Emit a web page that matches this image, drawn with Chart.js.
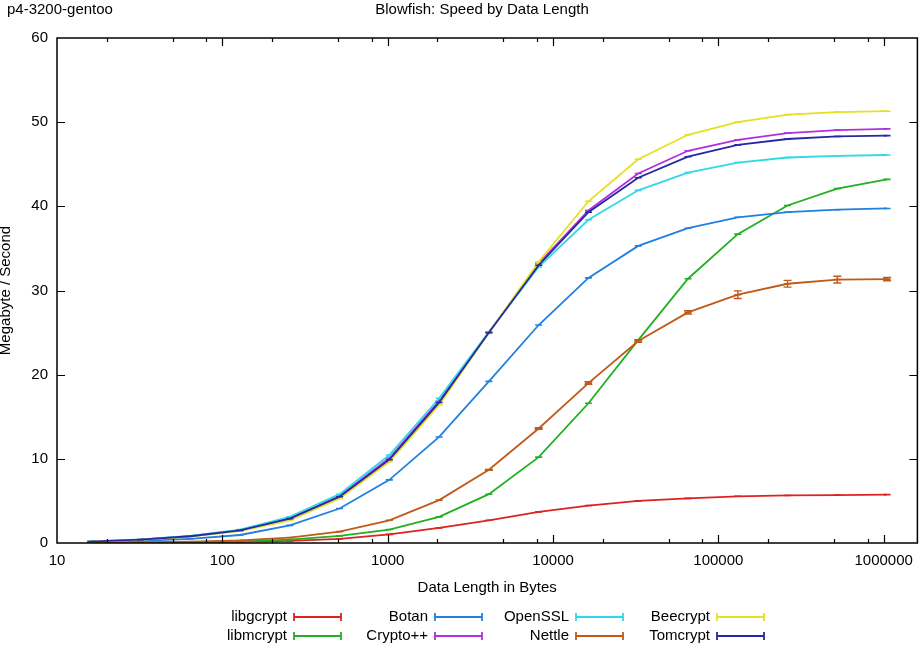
<!DOCTYPE html>
<html>
<head>
<meta charset="utf-8">
<script src="https://cdn.jsdelivr.net/npm/chart.js@4/dist/chart.umd.min.js"></script>
<style>
  html, body { margin: 0; padding: 0; background: #fff; }
  #wrap { width: 923px; height: 649px; }
</style>
</head>
<body>
<div id="wrap"><canvas id="chart" width="923" height="649"></canvas></div>
<script>
const hostLabel = 'p4-3200-gentoo';
const chartTitle = 'Blowfish: Speed by Data Length';
const xTitle = 'Data Length in Bytes';
const yTitle = 'Megabyte / Second';

// data lengths in bytes (x values)
const sizes = [16, 32, 64, 128, 256, 512, 1024, 2048, 4096, 8192, 16384, 32768, 65536, 131072, 262144, 524288, 1048576];

// MB/s per library
const libgcrypt = [0.02, 0.04, 0.07, 0.13, 0.25, 0.48, 1.02, 1.8, 2.7, 3.7, 4.45, 5.0, 5.3, 5.55, 5.65, 5.7, 5.75];
const libmcrypt = [0.03, 0.05, 0.1, 0.2, 0.4, 0.85, 1.6, 3.1, 5.8, 10.2, 16.6, 24.1, 31.4, 36.7, 40.1, 42.1, 43.2];
const botan     = [0.12, 0.25, 0.5, 0.95, 2.1, 4.1, 7.5, 12.6, 19.2, 25.9, 31.5, 35.3, 37.4, 38.7, 39.3, 39.6, 39.75];
const cryptopp  = [0.17, 0.4, 0.8, 1.5, 3.0, 5.6, 10.1, 16.9, 25.0, 33.2, 39.5, 43.9, 46.6, 47.9, 48.7, 49.05, 49.2];
const openssl   = [0.2, 0.42, 0.85, 1.6, 3.1, 5.8, 10.45, 17.2, 25.1, 32.8, 38.4, 41.9, 44.0, 45.2, 45.8, 46.0, 46.1];
const nettle    = [0.04, 0.08, 0.15, 0.3, 0.65, 1.35, 2.7, 5.1, 8.7, 13.6, 19.0, 24.0, 27.4, 29.5, 30.8, 31.3, 31.35];
const beecrypt  = [0.15, 0.37, 0.75, 1.4, 2.7, 5.3, 9.65, 16.4, 25.0, 33.4, 40.6, 45.6, 48.5, 50.0, 50.9, 51.2, 51.3];
const tomcrypt  = [0.17, 0.4, 0.8, 1.5, 2.9, 5.5, 9.9, 16.7, 25.0, 33.0, 39.3, 43.4, 45.9, 47.3, 48.0, 48.3, 48.4];

// +/- error (only Nettle has visible spread)
const nettleErr = [0, 0, 0, 0, 0, 0, 0, 0, 0.05, 0.1, 0.15, 0.15, 0.2, 0.45, 0.4, 0.4, 0.2];

const seriesNames = ['libgcrypt', 'libmcrypt', 'Botan', 'Crypto++', 'OpenSSL', 'Nettle', 'Beecrypt', 'Tomcrypt'];
const seriesValues = [libgcrypt, libmcrypt, botan, cryptopp, openssl, nettle, beecrypt, tomcrypt];
const seriesErrors = [null, null, null, null, null, nettleErr, null, null];
const seriesColors = ['#dd2222', '#22b022', '#2080e0', '#b030e0', '#30d8e8', '#c05a1a', '#e6e020', '#2828a0'];

const xMajorTicks = [10, 100, 1000, 10000, 100000, 1000000];
const xMinorMult = [2, 5, 8];
const yTicks = [0, 10, 20, 30, 40, 50, 60];

const FONT = '15px "Liberation Sans", Arial, sans-serif';

const datasets = seriesNames.map((name, i) => ({
  label: name,
  data: sizes.map((s, j) => ({ x: s, y: seriesValues[i][j] })),
  errors: seriesErrors[i],
  borderColor: seriesColors[i],
  backgroundColor: seriesColors[i],
  borderWidth: 1.8,
  pointStyle: 'line',
  pointRadius: 3.5,
  pointBorderWidth: 1.6,
  pointBorderColor: seriesColors[i],
  tension: 0,
  order: seriesNames.length - 1 - i
}));

// error bars
const errorBars = {
  id: 'errorBars',
  afterDatasetsDraw(chart){
    const ctx = chart.ctx, ys = chart.scales.y, xs = chart.scales.x;
    chart.data.datasets.forEach(ds => {
      if (!ds.errors) return;
      ctx.save();
      ctx.strokeStyle = ds.borderColor; ctx.lineWidth = 1.4;
      ds.data.forEach((p, j) => {
        const e = ds.errors[j];
        if (!e) return;
        const x = xs.getPixelForValue(p.x);
        const y1 = ys.getPixelForValue(p.y - e), y2 = ys.getPixelForValue(p.y + e);
        ctx.beginPath();
        ctx.moveTo(x, y1); ctx.lineTo(x, y2);
        ctx.moveTo(x - 4, y1); ctx.lineTo(x + 4, y1);
        ctx.moveTo(x - 4, y2); ctx.lineTo(x + 4, y2);
        ctx.stroke();
      });
      ctx.restore();
    });
  }
};

// frame, inward ticks, titles and the gnuplot-style key
const decor = {
  id: 'decor',
  afterDraw(chart){
    const ctx = chart.ctx, a = chart.chartArea, xs = chart.scales.x, ys = chart.scales.y;
    ctx.save();
    ctx.strokeStyle = '#000'; ctx.lineWidth = 1.5;
    ctx.strokeRect(a.left, a.top, a.right - a.left, a.bottom - a.top);

    ctx.lineWidth = 1.2;
    ctx.beginPath();
    xMajorTicks.forEach(v => {
      const x = Math.round(xs.getPixelForValue(v)) + 0.5;
      if (v > 10) {
        ctx.moveTo(x, a.bottom); ctx.lineTo(x, a.bottom - 8);
        ctx.moveTo(x, a.top); ctx.lineTo(x, a.top + 8);
      }
      xMinorMult.forEach(m => {
        const xv = v * m;
        if (xv > xs.max) return;
        const xm = Math.round(xs.getPixelForValue(xv)) + 0.5;
        ctx.moveTo(xm, a.bottom); ctx.lineTo(xm, a.bottom - 4);
        ctx.moveTo(xm, a.top); ctx.lineTo(xm, a.top + 4);
      });
    });
    yTicks.forEach(v => {
      if (v === 0 || v === 60) return;
      const y = Math.round(ys.getPixelForValue(v)) + 0.5;
      ctx.moveTo(a.left, y); ctx.lineTo(a.left + 8, y);
      ctx.moveTo(a.right, y); ctx.lineTo(a.right - 8, y);
    });
    ctx.stroke();

    ctx.fillStyle = '#000';
    ctx.font = FONT;
    ctx.textBaseline = 'middle';
    ctx.textAlign = 'left';
    ctx.fillText(hostLabel, 7, 10);
    ctx.textAlign = 'center';
    ctx.fillText(chartTitle, 482, 10);
    ctx.fillText(xTitle, (a.left + a.right) / 2, 588);
    ctx.save();
    ctx.translate(6, (a.top + a.bottom) / 2);
    ctx.rotate(-Math.PI / 2);
    ctx.fillText(yTitle, 0, 0);
    ctx.restore();

    // key: 4 columns x 2 rows, text right-aligned before the sample
    const colEnds = [287, 428, 569, 710];
    const rowYs = [617, 636];
    seriesNames.forEach((name, i) => {
      const col = Math.floor(i / 2), row = i % 2;
      const tx = colEnds[col], y = rowYs[row];
      ctx.textAlign = 'right';
      ctx.fillStyle = '#000';
      ctx.fillText(name, tx, y);
      const x1 = tx + 7, x2 = tx + 54;
      ctx.strokeStyle = seriesColors[i]; ctx.lineWidth = 1.8;
      ctx.beginPath();
      ctx.moveTo(x1, y); ctx.lineTo(x2, y);
      ctx.moveTo(x1, y - 4); ctx.lineTo(x1, y + 4);
      ctx.moveTo(x2, y - 4); ctx.lineTo(x2, y + 4);
      ctx.stroke();
    });
    ctx.restore();
  }
};

new Chart(document.getElementById('chart'), {
  type: 'line',
  data: { datasets },
  options: {
    responsive: false,
    animation: false,
    layout: { padding: { top: 38, right: 0, bottom: 0, left: 0 } },
    plugins: { legend: { display: false }, title: { display: false }, tooltip: { enabled: false } },
    scales: {
      x: {
        type: 'logarithmic',
        min: 10,
        max: 1600000,
        afterFit(scale){ scale.height = 106; scale.paddingRight = 3; },
        afterBuildTicks(scale){ scale.ticks = xMajorTicks.map(v => ({ value: v })); },
        grid: { display: false, drawTicks: false },
        border: { display: false },
        ticks: {
          padding: 9,
          color: '#000',
          font: { family: '"Liberation Sans", Arial, sans-serif', size: 15 },
          maxRotation: 0,
          autoSkip: false,
          callback: v => String(v)
        }
      },
      y: {
        min: 0,
        max: 60,
        afterFit(scale){ scale.width = 57; },
        afterBuildTicks(scale){ scale.ticks = yTicks.map(v => ({ value: v })); },
        grid: { display: false, drawTicks: false },
        border: { display: false },
        ticks: {
          padding: 9,
          color: '#000',
          font: { family: '"Liberation Sans", Arial, sans-serif', size: 15 },
          callback: v => String(v)
        }
      }
    }
  },
  plugins: [errorBars, decor]
});
</script>
</body>
</html>
